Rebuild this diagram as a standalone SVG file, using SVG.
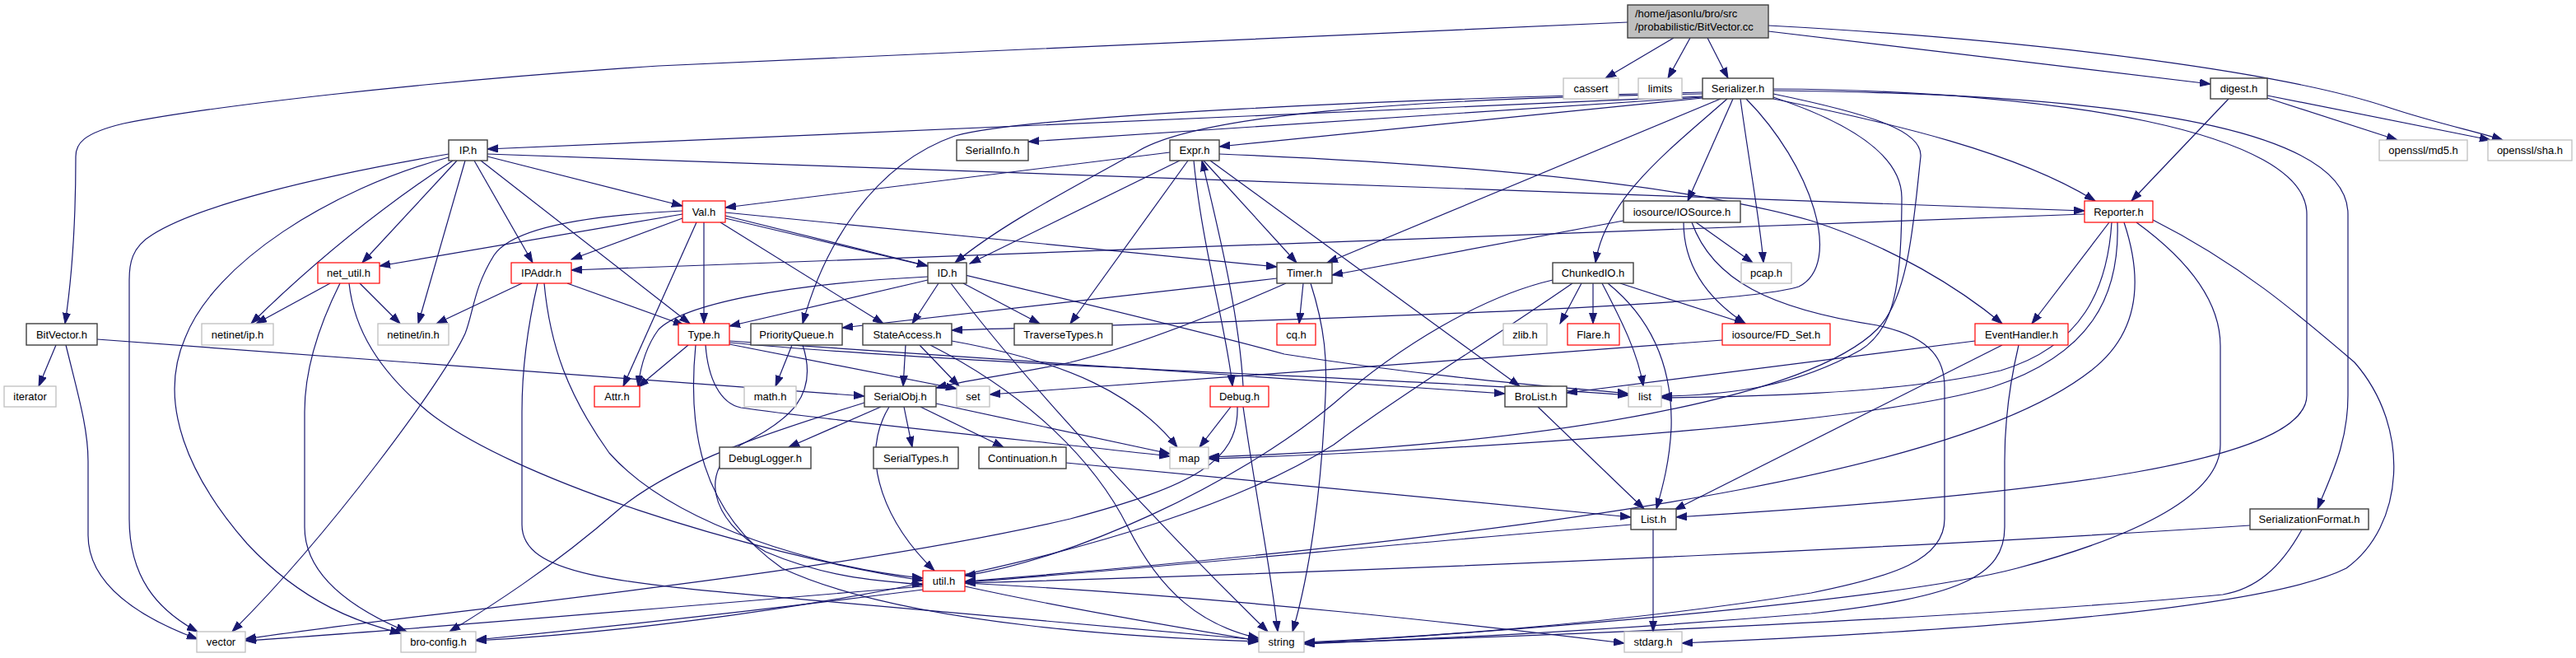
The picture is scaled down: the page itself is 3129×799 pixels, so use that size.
<svg xmlns="http://www.w3.org/2000/svg" width="3129" height="799" viewBox="0 0 3129 799">
<style>
.e{fill:none;stroke:#191970;stroke-width:1.2;marker-end:url(#a)}
.nb rect{fill:#fff;stroke:#3f3f3f;stroke-width:1.4}
.nr rect{fill:#fff;stroke:#ff0000;stroke-width:1.2}
.ng rect{fill:#fff;stroke:#bfbfbf;stroke-width:1.3}
.nt rect{fill:#bfbfbf;stroke:#3f3f3f;stroke-width:1.4}
text{font-family:"Liberation Sans",Arial,sans-serif;font-size:13px;fill:#000;text-anchor:middle}
.nt text{text-anchor:start}
</style>
<defs>
<marker id="a" markerUnits="userSpaceOnUse" markerWidth="14" markerHeight="10" refX="13" refY="5" orient="auto">
<path d="M0,0.5 L13,5 L0,9.5 z" fill="#191970" stroke="#191970" stroke-width="1"/>
</marker>
</defs>
<rect width="3129" height="799" fill="#fff"/>
<g id="connectors">
<path class="e" d="M1977,27 L800,80 C500,100 250,130 150,150 C100,162 92,175 92,190 C92,280 87,340 79,393"/>
<path class="e" d="M2033,46 L1950,95"/>
<path class="e" d="M2053,46 L2026,95"/>
<path class="e" d="M2074,46 L2099,95"/>
<path class="e" d="M2148,38 L2685,102"/>
<path class="e" d="M2148,31 C2500,50 2780,90 2900,130 C2960,150 3010,160 3040,170"/>
<path class="e" d="M2707,120 L2589,244"/>
<path class="e" d="M2754,119 L2912,170"/>
<path class="e" d="M2754,116 L3025,170"/>
<path class="e" d="M2068,117 L592,181"/>
<path class="e" d="M2068,118 L1249,172"/>
<path class="e" d="M2068,119 L1481,178"/>
<path class="e" d="M2068,114 C1700,120 1450,140 1380,185 C1300,230 1220,270 1160,319"/>
<path class="e" d="M2068,112 C1700,120 1250,140 1160,165 C1060,200 1000,300 975,393"/>
<path class="e" d="M2121,120 C2200,200 2240,320 2185,348 C2100,375 1500,390 1156,401"/>
<path class="e" d="M2090,120 L1612,319"/>
<path class="e" d="M2098,120 C2030,180 1950,240 1938,319"/>
<path class="e" d="M2105,120 L2050,244"/>
<path class="e" d="M2114,120 C2125,200 2138,270 2142,319"/>
<path class="e" d="M2154,120 C2300,150 2450,185 2545,244"/>
<path class="e" d="M2154,108 C2500,110 2802,160 2802,260 L2802,480 C2802,560 2500,600 2036,628"/>
<path class="e" d="M2154,110 C2650,115 2852,170 2852,260 L2852,480 C2852,540 2830,580 2815,618"/>
<path class="e" d="M2154,114 C2280,140 2335,160 2333,190 C2325,260 2320,360 2280,400 C2200,480 1900,540 1468,555"/>
<path class="e" d="M2154,118 C2250,150 2310,190 2310,240 C2310,350 2300,400 2260,425 C2180,470 2100,480 2018,481"/>
<path class="e" d="M592,187 L2532,256"/>
<path class="e" d="M592,190 L829,250"/>
<path class="e" d="M584,195 L838,393"/>
<path class="e" d="M576,195 L647,319"/>
<path class="e" d="M555,195 L440,319"/>
<path class="e" d="M565,195 L508,393"/>
<path class="e" d="M550,195 Q420,280 305,393"/>
<path class="e" d="M545,187 C380,215 240,250 185,285 C160,300 157,320 157,340 L157,630 C157,700 190,740 240,767"/>
<path class="e" d="M545,191 C400,230 260,320 225,410 C190,490 230,580 300,660 C370,735 440,757 487,769"/>
<path class="e" d="M401,344 L311,393"/>
<path class="e" d="M437,344 L486,393"/>
<path class="e" d="M413,344 C395,380 370,440 370,500 L370,640 C370,700 430,740 494,767"/>
<path class="e" d="M424,344 C430,400 460,450 520,500 C620,580 900,670 1121,705"/>
<path class="e" d="M634,344 L530,393"/>
<path class="e" d="M689,344 L831,395"/>
<path class="e" d="M653,344 C640,400 634,450 634,500 L634,637 C634,700 750,708 1000,730 C1250,752 1420,768 1529,777"/>
<path class="e" d="M661,344 C668,420 690,480 740,550 C820,640 1000,690 1121,702"/>
<path class="e" d="M829,260 L461,323"/>
<path class="e" d="M829,265 L694,315"/>
<path class="e" d="M829,256 C700,262 620,280 600,310 C575,350 575,380 565,405 C540,460 400,650 282,767"/>
<path class="e" d="M855,270 L855,393"/>
<path class="e" d="M846,270 L757,469"/>
<path class="e" d="M881,262 L1127,323"/>
<path class="e" d="M875,270 L1073,393"/>
<path class="e" d="M881,258 L1551,324"/>
<path class="e" d="M881,265 C1200,340 1450,400 1560,430 C1750,460 1900,470 1978,478"/>
<path class="e" d="M1421,185 L881,252"/>
<path class="e" d="M1433,195 L1178,320"/>
<path class="e" d="M1443,195 L1300,393"/>
<path class="e" d="M1450,195 C1460,300 1490,400 1497,469"/>
<path class="e" d="M1462,195 L1575,319"/>
<path class="e" d="M1481,187 C1800,200 2050,225 2200,268 C2300,300 2380,350 2432,393"/>
<path class="e" d="M1470,195 L1846,469"/>
<path class="e" d="M1510,469 C1505,380 1480,280 1460,195"/>
<path class="e" d="M1495,494 L1457,543"/>
<path class="e" d="M1510,494 C1525,600 1545,700 1552,767"/>
<path class="e" d="M1503,494 C1505,560 1450,590 1300,630 C1000,700 500,745 298,776"/>
<path class="e" d="M1127,336 C950,345 830,370 800,400 C785,420 778,445 775,469"/>
<path class="e" d="M1127,340 L886,396"/>
<path class="e" d="M1140,344 L1108,393"/>
<path class="e" d="M1170,344 L1263,393"/>
<path class="e" d="M1155,344 C1250,470 1420,650 1540,767"/>
<path class="e" d="M1583,344 L1578,393"/>
<path class="e" d="M1551,338 L1023,398"/>
<path class="e" d="M1562,344 C1480,380 1380,420 1300,440 C1230,455 1170,462 1137,471"/>
<path class="e" d="M1592,344 C1610,400 1612,440 1610,480 C1605,600 1590,700 1570,767"/>
<path class="e" d="M1972,268 L1618,334"/>
<path class="e" d="M2060,270 L2129,319"/>
<path class="e" d="M2045,270 C2045,320 2070,360 2120,393"/>
<path class="e" d="M2055,270 C2080,340 2150,375 2280,395 C2350,410 2362,440 2362,470 L2362,630 C2362,680 2300,700 2200,720 C1950,760 1700,775 1584,780"/>
<path class="e" d="M2562,270 L2468,393"/>
<path class="e" d="M2532,260 L694,328"/>
<path class="e" d="M2565,270 C2560,350 2530,420 2430,450 C2300,480 2100,482 2018,483"/>
<path class="e" d="M2572,270 C2575,360 2540,430 2420,470 C2250,520 1700,550 1468,557"/>
<path class="e" d="M2580,270 C2600,330 2605,400 2540,450 C2400,560 2000,640 1172,706"/>
<path class="e" d="M2595,270 C2650,310 2697,360 2697,420 L2697,540 C2697,600 2600,650 2450,690 C2300,730 1800,770 1584,781"/>
<path class="e" d="M2615,267 C2720,320 2790,380 2860,440 C2930,520 2920,640 2850,690 C2750,740 2400,765 2043,781"/>
<path class="e" d="M2399,414 L1903,477"/>
<path class="e" d="M2432,419 L2034,619"/>
<path class="e" d="M2452,419 C2440,470 2435,520 2435,560 L2435,640 C2435,700 2380,725 2200,745 C1900,770 1700,777 1584,782"/>
<path class="e" d="M1886,340 C1800,360 1700,420 1620,490 C1500,590 1300,680 1172,699"/>
<path class="e" d="M1910,344 C1800,420 1700,480 1620,540 C1400,680 900,760 578,778"/>
<path class="e" d="M1921,344 L1895,393"/>
<path class="e" d="M1935,344 L1935,393"/>
<path class="e" d="M1946,344 C1970,390 1990,430 1996,469"/>
<path class="e" d="M1953,344 C2010,390 2032,450 2030,520 C2028,560 2020,590 2012,618"/>
<path class="e" d="M1968,344 L2120,393"/>
<path class="e" d="M2092,413 C1800,435 1400,465 1202,479"/>
<path class="e" d="M1100,419 L1097,469"/>
<path class="e" d="M1117,419 L1165,469"/>
<path class="e" d="M1156,414 C1300,440 1380,480 1430,543"/>
<path class="e" d="M1130,419 C1250,480 1330,560 1370,640 C1410,720 1460,760 1529,775"/>
<path class="e" d="M836,419 L775,470"/>
<path class="e" d="M857,419 C860,460 875,490 900,495 C1000,510 1300,540 1421,554"/>
<path class="e" d="M886,418 C1000,440 1100,460 1162,472"/>
<path class="e" d="M886,414 L1828,478"/>
<path class="e" d="M886,416 C1200,445 1700,458 1978,480"/>
<path class="e" d="M845,419 C835,520 850,620 950,690 C1100,760 1400,775 1529,779"/>
<path class="e" d="M962,419 L942,469"/>
<path class="e" d="M975,419 C995,480 960,510 900,540 C850,570 860,630 930,670 C1000,700 1060,705 1121,710"/>
<path class="e" d="M1070,494 L958,543"/>
<path class="e" d="M1098,494 L1108,543"/>
<path class="e" d="M1118,494 L1219,543"/>
<path class="e" d="M1137,490 L1421,551"/>
<path class="e" d="M1080,494 C1040,560 1080,640 1135,693"/>
<path class="e" d="M1050,489 C950,520 820,560 750,620 C670,690 590,740 546,767"/>
<path class="e" d="M1121,712 C900,730 500,765 298,778"/>
<path class="e" d="M1121,716 C950,738 750,760 578,777"/>
<path class="e" d="M1172,712 C1300,740 1450,765 1529,778"/>
<path class="e" d="M1172,708 C1500,725 1800,760 1973,781"/>
<path class="e" d="M2008,643 L2008,767"/>
<path class="e" d="M1981,637 C1700,660 1400,690 1172,707"/>
<path class="e" d="M1868,494 L1997,618"/>
<path class="e" d="M1295,562 L1981,628"/>
<path class="e" d="M2733,638 C2400,660 1800,690 1172,708"/>
<path class="e" d="M2796,643 C2770,690 2740,715 2700,722 C2400,750 1900,772 1584,781"/>
<path class="e" d="M68,419 L47,469"/>
<path class="e" d="M80,419 C95,480 107,520 107,560 L107,650 C107,710 170,750 240,776"/>
<path class="e" d="M118,412 L1050,481"/>
</g>
<g id="n_top" class="nt"><rect x="1977" y="6" width="171" height="40"/><text x="1986" y="21">/home/jasonlu/bro/src</text><text x="1986" y="37">/probabilistic/BitVector.cc</text></g>
<g id="n_cassert" class="ng"><rect x="1899" y="95" width="67" height="25"/><text x="1932.5" y="112.1">cassert</text></g>
<g id="n_limits" class="ng"><rect x="1990" y="95" width="53" height="25"/><text x="2016.5" y="112.1">limits</text></g>
<g id="n_Serializer" class="nb"><rect x="2068" y="95" width="86" height="25"/><text x="2111" y="112.1">Serializer.h</text></g>
<g id="n_digest" class="nb"><rect x="2685" y="95" width="69" height="25"/><text x="2719.5" y="112.1">digest.h</text></g>
<g id="n_IP" class="nb"><rect x="545" y="170" width="47" height="25"/><text x="568.5" y="187.1">IP.h</text></g>
<g id="n_SerialInfo" class="nb"><rect x="1162" y="170" width="87" height="25"/><text x="1205.5" y="187.1">SerialInfo.h</text></g>
<g id="n_Expr" class="nb"><rect x="1421" y="170" width="60" height="25"/><text x="1451" y="187.1">Expr.h</text></g>
<g id="n_md5" class="ng"><rect x="2890" y="170" width="107" height="25"/><text x="2943.5" y="187.1">openssl/md5.h</text></g>
<g id="n_sha" class="ng"><rect x="3022" y="170" width="102" height="25"/><text x="3073" y="187.1">openssl/sha.h</text></g>
<g id="n_Val" class="nr"><rect x="829" y="244" width="52" height="26"/><text x="855" y="261.6">Val.h</text></g>
<g id="n_IOSource" class="nb"><rect x="1972" y="244" width="142" height="26"/><text x="2043" y="261.6">iosource/IOSource.h</text></g>
<g id="n_Reporter" class="nr"><rect x="2532" y="244" width="83" height="26"/><text x="2573.5" y="261.6">Reporter.h</text></g>
<g id="n_net_util" class="nr"><rect x="386" y="319" width="75" height="25"/><text x="423.5" y="336.1">net_util.h</text></g>
<g id="n_IPAddr" class="nr"><rect x="621" y="319" width="73" height="25"/><text x="657.5" y="336.1">IPAddr.h</text></g>
<g id="n_ID" class="nb"><rect x="1127" y="319" width="47" height="25"/><text x="1150.5" y="336.1">ID.h</text></g>
<g id="n_Timer" class="nb"><rect x="1551" y="319" width="67" height="25"/><text x="1584.5" y="336.1">Timer.h</text></g>
<g id="n_ChunkedIO" class="nb"><rect x="1886" y="319" width="98" height="25"/><text x="1935" y="336.1">ChunkedIO.h</text></g>
<g id="n_pcap" class="ng"><rect x="2115" y="319" width="61" height="25"/><text x="2145.5" y="336.1">pcap.h</text></g>
<g id="n_BitVector" class="nb"><rect x="32" y="393" width="86" height="26"/><text x="75" y="410.6">BitVector.h</text></g>
<g id="n_netinet_ip" class="ng"><rect x="245" y="393" width="87" height="26"/><text x="288.5" y="410.6">netinet/ip.h</text></g>
<g id="n_netinet_in" class="ng"><rect x="459" y="393" width="86" height="26"/><text x="502" y="410.6">netinet/in.h</text></g>
<g id="n_Type" class="nr"><rect x="824" y="393" width="62" height="26"/><text x="855" y="410.6">Type.h</text></g>
<g id="n_PriorityQueue" class="nb"><rect x="912" y="393" width="111" height="26"/><text x="967.5" y="410.6">PriorityQueue.h</text></g>
<g id="n_StateAccess" class="nb"><rect x="1048" y="393" width="108" height="26"/><text x="1102" y="410.6">StateAccess.h</text></g>
<g id="n_TraverseTypes" class="nb"><rect x="1232" y="393" width="119" height="26"/><text x="1291.5" y="410.6">TraverseTypes.h</text></g>
<g id="n_cq" class="nr"><rect x="1551" y="393" width="47" height="26"/><text x="1574.5" y="410.6">cq.h</text></g>
<g id="n_zlib" class="ng"><rect x="1826" y="393" width="53" height="26"/><text x="1852.5" y="410.6">zlib.h</text></g>
<g id="n_Flare" class="nr"><rect x="1904" y="393" width="63" height="26"/><text x="1935.5" y="410.6">Flare.h</text></g>
<g id="n_FD_Set" class="nr"><rect x="2092" y="393" width="131" height="26"/><text x="2157.5" y="410.6">iosource/FD_Set.h</text></g>
<g id="n_EventHandler" class="nr"><rect x="2399" y="393" width="113" height="26"/><text x="2455.5" y="410.6">EventHandler.h</text></g>
<g id="n_iterator" class="ng"><rect x="5" y="469" width="63" height="25"/><text x="36.5" y="486.1">iterator</text></g>
<g id="n_Attr" class="nr"><rect x="722" y="469" width="55" height="25"/><text x="749.5" y="486.1">Attr.h</text></g>
<g id="n_math" class="ng"><rect x="904" y="469" width="63" height="25"/><text x="935.5" y="486.1">math.h</text></g>
<g id="n_SerialObj" class="nb"><rect x="1050" y="469" width="87" height="25"/><text x="1093.5" y="486.1">SerialObj.h</text></g>
<g id="n_set" class="ng"><rect x="1162" y="469" width="40" height="25"/><text x="1182" y="486.1">set</text></g>
<g id="n_Debug" class="nr"><rect x="1470" y="469" width="71" height="25"/><text x="1505.5" y="486.1">Debug.h</text></g>
<g id="n_BroList" class="nb"><rect x="1828" y="469" width="75" height="25"/><text x="1865.5" y="486.1">BroList.h</text></g>
<g id="n_list" class="ng"><rect x="1978" y="469" width="40" height="25"/><text x="1998" y="486.1">list</text></g>
<g id="n_DebugLogger" class="nb"><rect x="874" y="543" width="111" height="26"/><text x="929.5" y="560.6">DebugLogger.h</text></g>
<g id="n_SerialTypes" class="nb"><rect x="1061" y="543" width="103" height="26"/><text x="1112.5" y="560.6">SerialTypes.h</text></g>
<g id="n_Continuation" class="nb"><rect x="1189" y="543" width="106" height="26"/><text x="1242" y="560.6">Continuation.h</text></g>
<g id="n_map" class="ng"><rect x="1421" y="543" width="47" height="26"/><text x="1444.5" y="560.6">map</text></g>
<g id="n_ListH" class="nb"><rect x="1981" y="618" width="55" height="25"/><text x="2008.5" y="635.1">List.h</text></g>
<g id="n_SerializationFormat" class="nb"><rect x="2733" y="618" width="144" height="25"/><text x="2805" y="635.1">SerializationFormat.h</text></g>
<g id="n_util" class="nr"><rect x="1121" y="693" width="51" height="25"/><text x="1146.5" y="710.1">util.h</text></g>
<g id="n_vector" class="ng"><rect x="239" y="767" width="59" height="25"/><text x="268.5" y="784.1">vector</text></g>
<g id="n_bro_config" class="ng"><rect x="487" y="767" width="91" height="25"/><text x="532.5" y="784.1">bro-config.h</text></g>
<g id="n_string" class="ng"><rect x="1529" y="767" width="55" height="25"/><text x="1556.5" y="784.1">string</text></g>
<g id="n_stdarg" class="ng"><rect x="1973" y="767" width="70" height="25"/><text x="2008" y="784.1">stdarg.h</text></g>
</svg>
